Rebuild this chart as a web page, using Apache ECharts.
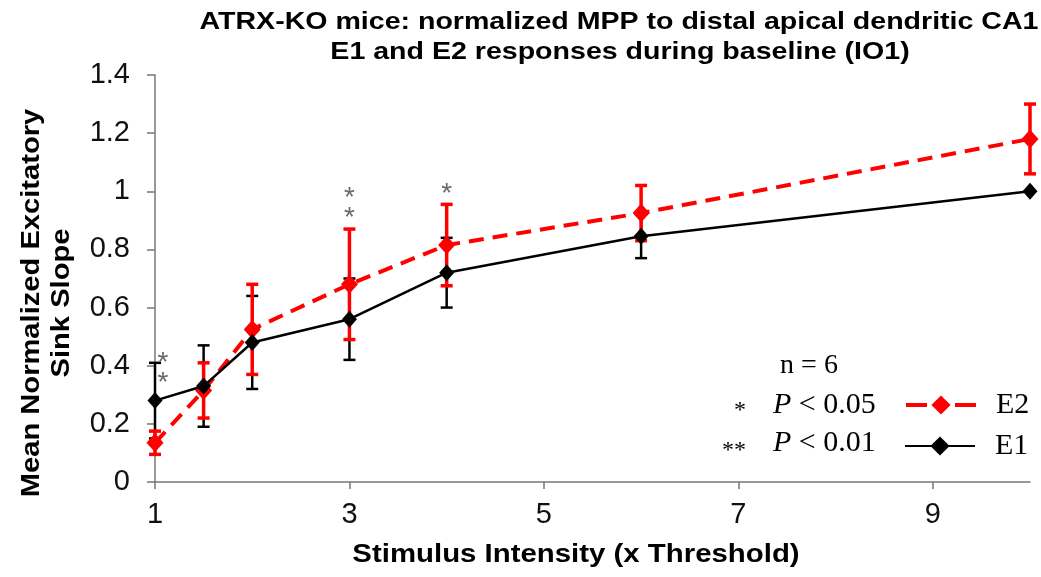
<!DOCTYPE html>
<html>
<head>
<meta charset="utf-8">
<script src="https://cdn.jsdelivr.net/npm/echarts@6/dist/echarts.min.js"></script>
<style>html,body{margin:0;padding:0;background:#fff;}#c{width:1041px;height:577px;}</style>
</head>
<body>
<div id="c"></div>
<script>
const xValues = [1, 1.5, 2, 3, 4, 6, 10];
const e1Mean = [0.28, 0.33, 0.48, 0.56, 0.72, 0.845, 1.0];
const e1Err = [0.13, 0.14, 0.16, 0.14, 0.12, 0.075, 0];
const e2Mean = [0.135, 0.315, 0.525, 0.68, 0.815, 0.925, 1.18];
const e2Err = [0.04, 0.095, 0.155, 0.19, 0.14, 0.095, 0.12];
const xTicks = [1, 3, 5, 7, 9];
const starX = [1, 3, 4];
const starY = [0.43, 0.995, 1.01];
const starText = ['*\n*', '*\n*', '*'];

const titleLines = ['ATRX-KO mice: normalized MPP to distal apical dendritic CA1', 'E1 and E2 responses during baseline (IO1)'];
const yName = ['Mean Normalized Excitatory', 'Sink Slope'];
const xName = 'Stimulus Intensity (x Threshold)';

const RED = '#ff0000';
const BLACK = '#000000';

function pts(means) { return xValues.map((x, i) => [x, means[i]]); }
function errData(means, errs) { return xValues.map((x, i) => [x, means[i] - errs[i], means[i] + errs[i]]); }

function errSeries(name, means, errs, color, w, cap) {
  return {
    type: 'custom', name: name + 'err', z: 2,
    data: errData(means, errs),
    encode: { x: 0, y: [1, 2] },
    renderItem: function (params, api) {
      const lo = api.coord([api.value(0), api.value(1)]);
      const hi = api.coord([api.value(0), api.value(2)]);
      if (Math.abs(lo[1] - hi[1]) < 1) return null;
      const st = { stroke: color, lineWidth: w };
      return { type: 'group', children: [
        { type: 'line', shape: { x1: lo[0], y1: lo[1], x2: hi[0], y2: hi[1] }, style: st },
        { type: 'line', shape: { x1: lo[0] - cap, y1: lo[1], x2: lo[0] + cap, y2: lo[1] }, style: st },
        { type: 'line', shape: { x1: hi[0] - cap, y1: hi[1], x2: hi[0] + cap, y2: hi[1] }, style: st }
      ]};
    }
  };
}

const chart = echarts.init(document.getElementById('c'));
chart.setOption({
  animation: false,
  backgroundColor: '#fff',
  grid: { left: 155, right: 11, top: 75, bottom: 95, containLabel: false },
  xAxis: {
    type: 'value', min: 1, max: 10,
    axisLine: { lineStyle: { color: '#777', width: 1.5 } },
    axisTick: { customValues: xTicks, length: 7, lineStyle: { color: '#777', width: 1.5 } },
    axisLabel: { customValues: xTicks, fontFamily: 'Liberation Sans', fontSize: 29, color: '#111', margin: 18 },
    splitLine: { show: false }
  },
  yAxis: {
    type: 'value', min: 0, max: 1.4, interval: 0.2,
    axisLine: { show: true, lineStyle: { color: '#777', width: 1.5 } },
    axisTick: { show: true, length: 8, lineStyle: { color: '#777', width: 1.5 } },
    axisLabel: { fontFamily: 'Liberation Sans', fontSize: 29, color: '#111', margin: 25 },
    splitLine: { show: false }
  },
  legend: [
    { data: [{ name: 'E2', lineStyle: { type: [21, 28], width: 4 } }], left: 904, top: 390, padding: 0, itemWidth: 70, itemHeight: 24, itemGap: 20,
      textStyle: { fontFamily: 'Liberation Serif', fontSize: 30, color: '#000', padding: [0, 0, 0, 15] } },
    { data: ['E1'], left: 904, top: 431, padding: 0, itemWidth: 70, itemHeight: 24, itemGap: 20,
      textStyle: { fontFamily: 'Liberation Serif', fontSize: 30, color: '#000', padding: [0, 0, 0, 15] } }
  ],
  series: [
    errSeries('E1', e1Mean, e1Err, BLACK, 2.5, 6),
    errSeries('E2', e2Mean, e2Err, RED, 3.5, 6),
    { type: 'line', name: 'E2', z: 3, data: pts(e2Mean), symbol: 'diamond', symbolSize: [17, 19],
      itemStyle: { color: RED }, lineStyle: { color: RED, width: 4, type: [15, 9] } },
    { type: 'line', name: 'E1', z: 4, data: pts(e1Mean), symbol: 'diamond', symbolSize: [15, 17],
      itemStyle: { color: BLACK }, lineStyle: { color: BLACK, width: 2.5 } },
    { type: 'scatter', name: 'stars', z: 5, symbolSize: 1, itemStyle: { color: 'rgba(0,0,0,0)' },
      data: starX.map((x, i) => ({ value: [x, starY[i]], label: { formatter: starText[i], offset: i === 0 ? [8, -4] : [0, -4] } })),
      label: { show: true, position: 'inside', verticalAlign: 'top', fontFamily: 'Liberation Sans', fontSize: 28, lineHeight: 20, color: '#444' } }
  ],
  graphic: [
    { type: 'text', x: 619, y: 22, scaleX: 1.19, style: { text: titleLines[0], font: 'bold 24px "Liberation Sans"', fill: '#000', align: 'center', verticalAlign: 'middle' } },
    { type: 'text', x: 620, y: 52, scaleX: 1.19, style: { text: titleLines[1], font: 'bold 24px "Liberation Sans"', fill: '#000', align: 'center', verticalAlign: 'middle' } },
    { type: 'text', x: 47, y: 303, rotation: Math.PI / 2, scaleX: 1.12, style: { text: yName.join('\n'), font: 'bold 26px "Liberation Sans"', fill: '#000', align: 'center', verticalAlign: 'middle', lineHeight: 30 } },
    { type: 'text', x: 576, y: 555, scaleX: 1.13, style: { text: xName, font: 'bold 26px "Liberation Sans"', fill: '#000', align: 'center', verticalAlign: 'middle' } },
    { type: 'text', x: 809, y: 366, style: { text: 'n = 6', font: '28px "Liberation Serif"', fill: '#000', align: 'center', verticalAlign: 'middle' } },
    { type: 'text', x: 746, y: 411, style: { text: '*', font: '24px "Liberation Serif"', fill: '#000', align: 'right', verticalAlign: 'middle' } },
    { type: 'text', x: 746, y: 451, style: { text: '**', font: '24px "Liberation Serif"', fill: '#000', align: 'right', verticalAlign: 'middle' } },
    { type: 'text', x: 773, y: 405, style: { text: '{i|P} < 0.05', rich: { i: { fontStyle: 'italic', fontFamily: 'Liberation Serif', fontSize: 30 } }, font: '30px "Liberation Serif"', fill: '#000', verticalAlign: 'middle' } },
    { type: 'text', x: 773, y: 443, style: { text: '{i|P} < 0.01', rich: { i: { fontStyle: 'italic', fontFamily: 'Liberation Serif', fontSize: 30 } }, font: '30px "Liberation Serif"', fill: '#000', verticalAlign: 'middle' } }
  ]
});
</script>
</body>
</html>
